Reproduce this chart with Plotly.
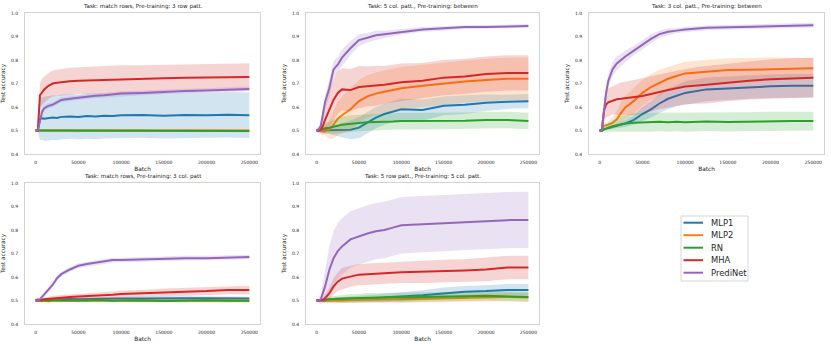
import plotly.graph_objects as go

# ---------------- data ----------------
batch = [0, 2500, 5000, 7500, 10000, 15000, 20000, 25000, 30000, 40000, 50000, 60000,
         70000, 80000, 90000, 100000, 125000, 150000, 175000, 200000, 225000, 250000]

model_names = ["MLP1", "MLP2", "RN", "MHA", "PrediNet"]
model_colors = ["#1f77b4", "#ff7f0e", "#2ca02c", "#d62728", "#9467bd"]

panel_titles = [
    "Task: match rows, Pre-training: 3 row patt.",
    "Task: 5 col. patt., Pre-training: between",
    "Task: 3 col. patt., Pre-training: between",
    "Task: match rows, Pre-training: 3 col. patt",
    "Task: 5 row patt., Pre-training: 5 col. patt.",
]

y_ticks = [0.4, 0.5, 0.6, 0.7, 0.8, 0.9, 1.0]
y_tick_labels = ["0.4", "0.5", "0.6", "0.7", "0.8", "0.9", "1.0"]
x_ticks = [0, 50000, 100000, 150000, 200000, 250000]
x_tick_labels = ["0", "50000", "100000", "150000", "200000", "250000"]

# Panel 1
p1_mlp1 = [0.50, 0.50, 0.55, 0.552, 0.55, 0.553, 0.555, 0.553, 0.558, 0.56, 0.557, 0.562, 0.56, 0.563, 0.562, 0.565, 0.566, 0.563, 0.566, 0.565, 0.567, 0.565]
p1_mlp1_sd = [0.005, 0.005, 0.09, 0.09, 0.095, 0.095, 0.095, 0.095, 0.095, 0.095, 0.095, 0.097, 0.097, 0.097, 0.097, 0.097, 0.097, 0.097, 0.097, 0.097, 0.097, 0.097]
p1_mlp2 = [0.50, 0.50, 0.502, 0.50, 0.503, 0.50, 0.501, 0.503, 0.50, 0.502, 0.50, 0.501, 0.50, 0.502, 0.501, 0.50, 0.502, 0.50, 0.501, 0.50, 0.502, 0.50]
p1_mlp2_sd = [0.005] * 22
p1_rn = [0.50, 0.50, 0.498, 0.50, 0.499, 0.501, 0.498, 0.50, 0.499, 0.50, 0.498, 0.50, 0.499, 0.501, 0.50, 0.498, 0.50, 0.499, 0.50, 0.501, 0.499, 0.498]
p1_rn_sd = [0.005] * 22
p1_mha = [0.50, 0.50, 0.65, 0.665, 0.675, 0.69, 0.70, 0.703, 0.706, 0.71, 0.712, 0.713, 0.715, 0.716, 0.718, 0.72, 0.72, 0.722, 0.724, 0.726, 0.728, 0.728]
p1_mha_sd = [0.005, 0.005, 0.05, 0.055, 0.055, 0.055, 0.055, 0.056, 0.056, 0.057, 0.057, 0.057, 0.058, 0.058, 0.058, 0.058, 0.058, 0.058, 0.058, 0.058, 0.058, 0.058]
p1_predinet = [0.50, 0.50, 0.54, 0.58, 0.595, 0.605, 0.61, 0.62, 0.63, 0.635, 0.64, 0.645, 0.648, 0.65, 0.655, 0.657, 0.66, 0.665, 0.668, 0.67, 0.673, 0.677]
p1_predinet_sd = [0.005, 0.005, 0.01, 0.01, 0.01, 0.01, 0.01, 0.01, 0.01, 0.01, 0.01, 0.01, 0.01, 0.01, 0.01, 0.01, 0.01, 0.01, 0.01, 0.01, 0.01, 0.01]

# Panel 2
p2_mlp1 = [0.50, 0.50, 0.50, 0.50, 0.50, 0.50, 0.50, 0.50, 0.50, 0.503, 0.512, 0.535, 0.555, 0.57, 0.58, 0.59, 0.587, 0.605, 0.61, 0.618, 0.622, 0.625]
p2_mlp1_sd = [0.005, 0.005, 0.01, 0.01, 0.01, 0.015, 0.02, 0.025, 0.03, 0.04, 0.045, 0.045, 0.045, 0.045, 0.045, 0.045, 0.045, 0.04, 0.04, 0.035, 0.03, 0.03]
p2_mlp2 = [0.50, 0.50, 0.50, 0.50, 0.50, 0.505, 0.525, 0.55, 0.565, 0.59, 0.625, 0.645, 0.657, 0.665, 0.672, 0.68, 0.69, 0.70, 0.708, 0.715, 0.72, 0.72]
p2_mlp2_sd = [0.005, 0.005, 0.005, 0.01, 0.02, 0.04, 0.06, 0.07, 0.08, 0.09, 0.09, 0.09, 0.09, 0.09, 0.09, 0.09, 0.09, 0.09, 0.09, 0.09, 0.09, 0.09]
p2_rn = [0.50, 0.50, 0.505, 0.508, 0.51, 0.512, 0.515, 0.52, 0.525, 0.53, 0.532, 0.535, 0.535, 0.538, 0.538, 0.54, 0.54, 0.54, 0.542, 0.545, 0.545, 0.54]
p2_rn_sd = [0.005, 0.005, 0.01, 0.015, 0.02, 0.025, 0.03, 0.03, 0.035, 0.035, 0.035, 0.035, 0.035, 0.035, 0.035, 0.035, 0.035, 0.035, 0.035, 0.035, 0.035, 0.035]
p2_mha = [0.50, 0.50, 0.505, 0.52, 0.545, 0.59, 0.63, 0.66, 0.675, 0.672, 0.685, 0.688, 0.69, 0.695, 0.70, 0.705, 0.712, 0.725, 0.73, 0.74, 0.745, 0.745]
p2_mha_sd = [0.005, 0.01, 0.02, 0.04, 0.06, 0.08, 0.09, 0.09, 0.09, 0.09, 0.09, 0.085, 0.085, 0.08, 0.08, 0.08, 0.075, 0.075, 0.075, 0.075, 0.075, 0.075]
p2_predinet = [0.50, 0.505, 0.52, 0.57, 0.62, 0.68, 0.76, 0.78, 0.81, 0.85, 0.885, 0.895, 0.905, 0.91, 0.915, 0.92, 0.93, 0.935, 0.94, 0.94, 0.943, 0.945]
p2_predinet_sd = [0.01, 0.01, 0.015, 0.02, 0.03, 0.035, 0.035, 0.035, 0.035, 0.03, 0.025, 0.02, 0.02, 0.015, 0.015, 0.012, 0.01, 0.01, 0.008, 0.008, 0.008, 0.008]

# Panel 3
p3_mlp1 = [0.50, 0.50, 0.505, 0.508, 0.51, 0.515, 0.52, 0.525, 0.53, 0.545, 0.57, 0.59, 0.615, 0.635, 0.648, 0.66, 0.675, 0.68, 0.685, 0.688, 0.69, 0.69]
p3_mlp1_sd = [0.005, 0.005, 0.005, 0.005, 0.005, 0.008, 0.01, 0.012, 0.015, 0.02, 0.03, 0.035, 0.04, 0.045, 0.045, 0.05, 0.05, 0.05, 0.05, 0.05, 0.05, 0.05]
p3_mlp2 = [0.50, 0.50, 0.52, 0.522, 0.525, 0.532, 0.548, 0.575, 0.598, 0.626, 0.66, 0.685, 0.703, 0.72, 0.732, 0.743, 0.75, 0.757, 0.758, 0.762, 0.763, 0.765]
p3_mlp2_sd = [0.005, 0.005, 0.005, 0.01, 0.015, 0.025, 0.035, 0.045, 0.05, 0.055, 0.055, 0.055, 0.055, 0.05, 0.05, 0.05, 0.05, 0.05, 0.05, 0.05, 0.045, 0.045]
p3_rn = [0.50, 0.50, 0.505, 0.51, 0.512, 0.518, 0.522, 0.527, 0.53, 0.533, 0.535, 0.535, 0.537, 0.535, 0.537, 0.535, 0.538, 0.536, 0.538, 0.54, 0.54, 0.54]
p3_rn_sd = [0.005, 0.005, 0.01, 0.015, 0.02, 0.025, 0.03, 0.035, 0.035, 0.04, 0.04, 0.04, 0.04, 0.04, 0.04, 0.04, 0.04, 0.04, 0.04, 0.04, 0.04, 0.04]
p3_mha = [0.50, 0.50, 0.585, 0.61, 0.62, 0.628, 0.633, 0.635, 0.637, 0.64, 0.647, 0.655, 0.665, 0.672, 0.68, 0.687, 0.695, 0.704, 0.712, 0.718, 0.722, 0.725]
p3_mha_sd = [0.005, 0.005, 0.05, 0.055, 0.06, 0.06, 0.065, 0.07, 0.07, 0.075, 0.075, 0.075, 0.075, 0.075, 0.075, 0.075, 0.08, 0.08, 0.08, 0.085, 0.085, 0.085]
p3_predinet = [0.50, 0.50, 0.58, 0.66, 0.71, 0.76, 0.785, 0.80, 0.815, 0.84, 0.865, 0.89, 0.91, 0.92, 0.925, 0.93, 0.937, 0.94, 0.943, 0.945, 0.946, 0.948]
p3_predinet_sd = [0.01, 0.01, 0.03, 0.03, 0.03, 0.03, 0.03, 0.025, 0.025, 0.02, 0.02, 0.02, 0.015, 0.015, 0.01, 0.01, 0.01, 0.01, 0.01, 0.01, 0.01, 0.01]

# Panel 4
p4_mlp1 = [0.50, 0.50, 0.502, 0.503, 0.503, 0.503, 0.504, 0.505, 0.505, 0.506, 0.505, 0.506, 0.506, 0.507, 0.507, 0.508, 0.508, 0.51, 0.51, 0.51, 0.51, 0.508]
p4_mlp1_sd = [0.005, 0.005, 0.006, 0.006, 0.006, 0.007, 0.007, 0.007, 0.008, 0.008, 0.008, 0.008, 0.008, 0.008, 0.008, 0.008, 0.008, 0.008, 0.008, 0.008, 0.008, 0.008]
p4_mlp2 = [0.50, 0.505, 0.50, 0.498, 0.50, 0.497, 0.50, 0.502, 0.50, 0.499, 0.501, 0.50, 0.499, 0.50, 0.501, 0.50, 0.499, 0.50, 0.501, 0.499, 0.50, 0.50]
p4_mlp2_sd = [0.008] * 22
p4_rn = [0.50, 0.50, 0.501, 0.50, 0.499, 0.50, 0.501, 0.498, 0.50, 0.501, 0.499, 0.50, 0.502, 0.50, 0.499, 0.50, 0.501, 0.498, 0.50, 0.501, 0.499, 0.499]
p4_rn_sd = [0.006] * 22
p4_mha = [0.50, 0.50, 0.502, 0.503, 0.505, 0.507, 0.51, 0.512, 0.512, 0.515, 0.517, 0.518, 0.52, 0.522, 0.524, 0.528, 0.53, 0.535, 0.537, 0.54, 0.545, 0.545]
p4_mha_sd = [0.005, 0.005, 0.006, 0.007, 0.008, 0.009, 0.01, 0.01, 0.011, 0.012, 0.012, 0.013, 0.013, 0.014, 0.014, 0.015, 0.015, 0.016, 0.017, 0.018, 0.018, 0.018]
p4_predinet = [0.50, 0.50, 0.505, 0.515, 0.525, 0.546, 0.567, 0.595, 0.612, 0.632, 0.648, 0.655, 0.66, 0.665, 0.672, 0.672, 0.675, 0.678, 0.68, 0.68, 0.684, 0.685]
p4_predinet_sd = [0.008, 0.008, 0.01, 0.01, 0.01, 0.01, 0.01, 0.01, 0.01, 0.01, 0.01, 0.01, 0.01, 0.01, 0.01, 0.01, 0.01, 0.01, 0.01, 0.01, 0.01, 0.01]

# Panel 5
p5_mlp1 = [0.50, 0.50, 0.50, 0.50, 0.50, 0.50, 0.502, 0.503, 0.503, 0.505, 0.507, 0.508, 0.51, 0.512, 0.513, 0.515, 0.522, 0.53, 0.537, 0.54, 0.545, 0.545]
p5_mlp1_sd = [0.005, 0.005, 0.005, 0.006, 0.007, 0.008, 0.01, 0.01, 0.012, 0.012, 0.014, 0.015, 0.016, 0.017, 0.018, 0.02, 0.022, 0.025, 0.025, 0.025, 0.025, 0.025]
p5_mlp2 = [0.50, 0.50, 0.50, 0.50, 0.498, 0.497, 0.50, 0.50, 0.50, 0.502, 0.503, 0.505, 0.505, 0.505, 0.505, 0.505, 0.507, 0.508, 0.51, 0.512, 0.515, 0.513]
p5_mlp2_sd = [0.005, 0.005, 0.006, 0.008, 0.01, 0.01, 0.012, 0.012, 0.012, 0.012, 0.013, 0.013, 0.014, 0.014, 0.015, 0.015, 0.015, 0.016, 0.016, 0.017, 0.018, 0.018]
p5_rn = [0.50, 0.50, 0.50, 0.502, 0.503, 0.505, 0.505, 0.507, 0.508, 0.51, 0.51, 0.512, 0.512, 0.513, 0.515, 0.513, 0.515, 0.515, 0.518, 0.52, 0.518, 0.515]
p5_rn_sd = [0.005, 0.005, 0.006, 0.008, 0.01, 0.012, 0.014, 0.015, 0.016, 0.018, 0.018, 0.02, 0.02, 0.02, 0.02, 0.02, 0.02, 0.02, 0.02, 0.02, 0.02, 0.02]
p5_mha = [0.50, 0.50, 0.50, 0.503, 0.51, 0.53, 0.56, 0.58, 0.593, 0.603, 0.61, 0.612, 0.615, 0.615, 0.618, 0.62, 0.622, 0.625, 0.628, 0.632, 0.64, 0.64]
p5_mha_sd = [0.005, 0.005, 0.006, 0.01, 0.015, 0.025, 0.035, 0.04, 0.045, 0.045, 0.045, 0.045, 0.045, 0.045, 0.045, 0.045, 0.048, 0.048, 0.048, 0.05, 0.05, 0.05]
p5_predinet = [0.50, 0.50, 0.505, 0.53, 0.56, 0.63, 0.68, 0.71, 0.73, 0.76, 0.773, 0.785, 0.795, 0.80, 0.81, 0.82, 0.825, 0.83, 0.835, 0.84, 0.842, 0.843]
p5_predinet_sd = [0.01, 0.01, 0.02, 0.04, 0.07, 0.1, 0.115, 0.12, 0.12, 0.12, 0.12, 0.12, 0.12, 0.12, 0.12, 0.12, 0.12, 0.12, 0.12, 0.12, 0.12, 0.12]

panels = [
    [(p1_mlp1, p1_mlp1_sd), (p1_mlp2, p1_mlp2_sd), (p1_rn, p1_rn_sd), (p1_mha, p1_mha_sd), (p1_predinet, p1_predinet_sd)],
    [(p2_mlp1, p2_mlp1_sd), (p2_mlp2, p2_mlp2_sd), (p2_rn, p2_rn_sd), (p2_mha, p2_mha_sd), (p2_predinet, p2_predinet_sd)],
    [(p3_mlp1, p3_mlp1_sd), (p3_mlp2, p3_mlp2_sd), (p3_rn, p3_rn_sd), (p3_mha, p3_mha_sd), (p3_predinet, p3_predinet_sd)],
    [(p4_mlp1, p4_mlp1_sd), (p4_mlp2, p4_mlp2_sd), (p4_rn, p4_rn_sd), (p4_mha, p4_mha_sd), (p4_predinet, p4_predinet_sd)],
    [(p5_mlp1, p5_mlp1_sd), (p5_mlp2, p5_mlp2_sd), (p5_rn, p5_rn_sd), (p5_mha, p5_mha_sd), (p5_predinet, p5_predinet_sd)],
]

# ---------------- layout ----------------
W, H = 831, 347
# pixel boxes (left, right, top, bottom)
boxes = [(25, 260, 13, 154), (306, 539, 13, 154), (589, 824, 13, 154),
         (25, 260, 183, 324), (306, 539, 183, 324)]

FONT = "DejaVu Sans"
TXT = "#262626"


def rgba(hexc, a):
    h = hexc.lstrip("#")
    return "rgba(%d,%d,%d,%s)" % (int(h[0:2], 16), int(h[2:4], 16), int(h[4:6], 16), a)


def px(xp, yp):
    return xp / W, 1 - yp / H


fig = go.Figure()
layout = dict(
    width=W, height=H,
    margin=dict(l=0, r=0, t=0, b=0, autoexpand=False),
    paper_bgcolor="white", plot_bgcolor="white",
    font=dict(family=FONT, color=TXT),
    annotations=[], shapes=[],
    showlegend=False,
)

for pi, (series, box) in enumerate(zip(panels, boxes)):
    l, r, t, b = box
    ax = "" if pi == 0 else str(pi + 1)
    xa, ya = "x" + ax, "y" + ax
    for mi, (mean, sd) in enumerate(series):
        col = model_colors[mi]
        upper = [m + s for m, s in zip(mean, sd)]
        lower = [m - s for m, s in zip(mean, sd)]
        fig.add_trace(go.Scatter(
            x=batch + batch[::-1], y=upper + lower[::-1],
            fill="toself", fillcolor=rgba(col, 0.2), line=dict(width=0),
            mode="lines", hoverinfo="skip", showlegend=False,
            xaxis=xa, yaxis=ya))
        fig.add_trace(go.Scatter(
            x=batch, y=mean, mode="lines",
            line=dict(color=col, width=2),
            name=model_names[mi], showlegend=False, xaxis=xa, yaxis=ya))
    layout["xaxis" + ax] = dict(
        domain=[l / W, r / W], anchor=ya, range=[-12500, 262500], automargin=False,
        tickvals=x_ticks, ticktext=x_tick_labels, showgrid=False, zeroline=False,
        showline=True, mirror=True, linecolor="#d3d3d3", linewidth=1,
        ticks="", ticklabelstandoff=4,
        tickfont=dict(size=4.5, color=TXT),
        title=dict(text="Batch", font=dict(size=5.8, color=TXT), standoff=2))
    layout["yaxis" + ax] = dict(
        domain=[1 - b / H, 1 - t / H], anchor=xa, range=[0.4, 1.0], automargin=False,
        tickvals=y_ticks, ticktext=y_tick_labels, showgrid=False, zeroline=False,
        showline=True, mirror=True, linecolor="#d3d3d3", linewidth=1,
        ticks="", ticklabelstandoff=5,
        tickfont=dict(size=4.5, color=TXT),
        title=dict(text="Test accuracy", font=dict(size=5.8, color=TXT), standoff=4))
    layout["annotations"].append(dict(
        text=panel_titles[pi], x=(l + r) / 2 / W, y=1 - (t - 6.8) / H,
        xref="paper", yref="paper", xanchor="center", yanchor="middle",
        showarrow=False, font=dict(size=5.6, family=FONT, color=TXT)))

# ---------------- legend (drawn by hand, matplotlib-like) ----------------
leg_l, leg_r, leg_t, leg_b = 681, 748, 216, 281
x0, y0 = px(leg_l, leg_b)
x1, y1 = px(leg_r, leg_t)
layout["shapes"].append(dict(type="rect", xref="paper", yref="paper",
                             x0=x0, y0=y0, x1=x1, y1=y1,
                             line=dict(color="#d6d6d6", width=1), fillcolor="white"))
row_h = 12.5
for mi, name in enumerate(model_names):
    yc = leg_t + 6.7 + mi * row_h
    sx0, sy = px(683.5, yc)
    sx1, _ = px(703, yc)
    layout["shapes"].append(dict(type="line", xref="paper", yref="paper",
                                 x0=sx0, x1=sx1, y0=sy, y1=sy,
                                 line=dict(color=model_colors[mi], width=2)))
    tx, _ = px(708.5, yc)
    layout["annotations"].append(dict(
        text=name, x=tx, y=sy, xref="paper", yref="paper",
        xanchor="left", yanchor="middle", showarrow=False,
        font=dict(size=8.4, family=FONT, color=TXT)))

fig.update_layout(**layout)
fig.write_html(
    "out.html",
    config={"displayModeBar": False},
    post_script="document.body.style.margin='0';document.body.style.padding='0';"
                "document.body.style.overflow='hidden';",
)
